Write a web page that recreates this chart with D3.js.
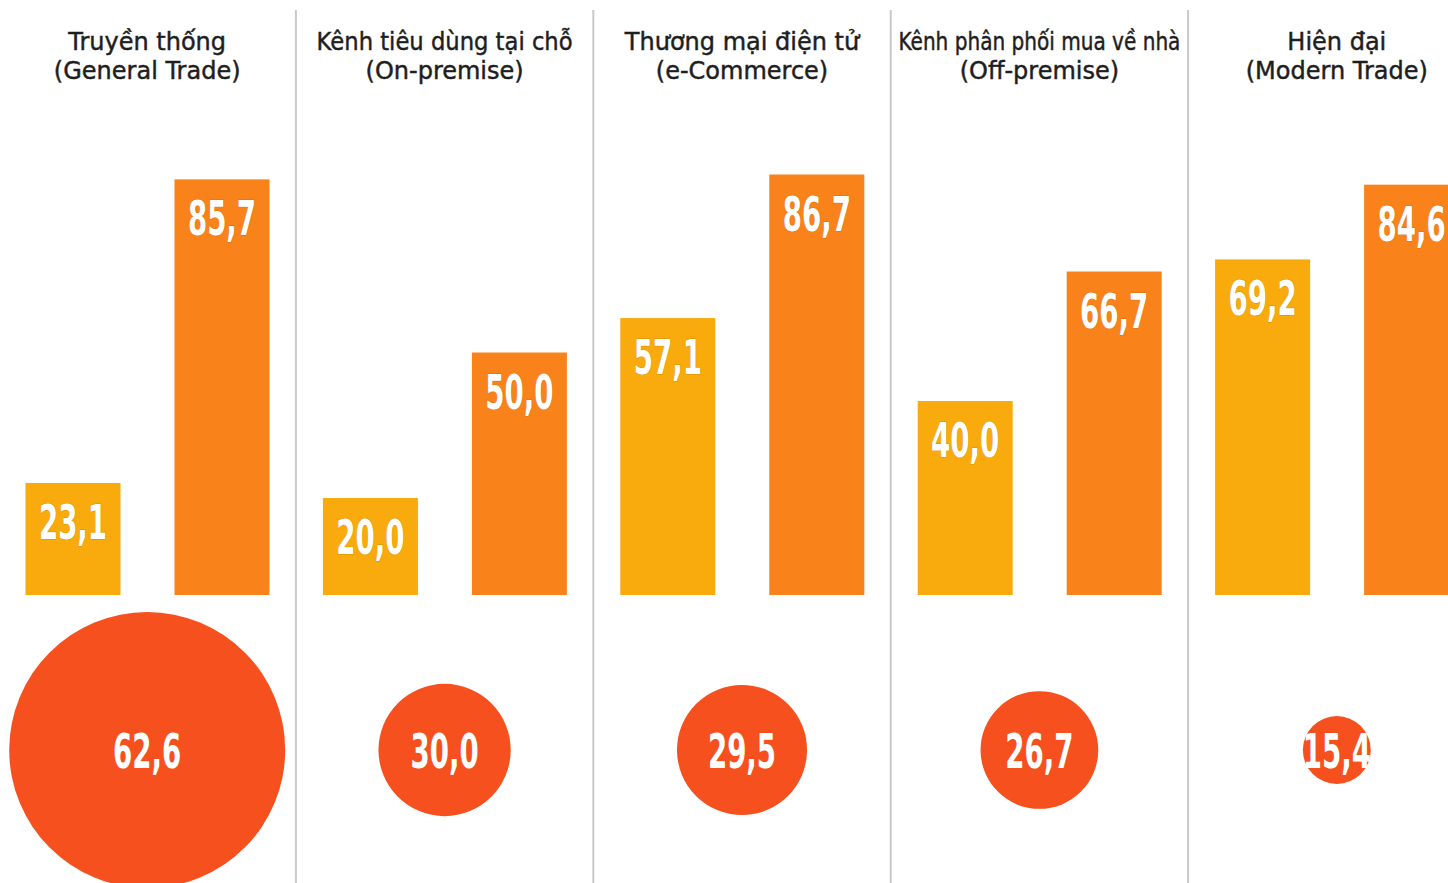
<!DOCTYPE html>
<html>
<head>
<meta charset="utf-8">
<script src="https://cdn.jsdelivr.net/npm/d3@7"></script>
<style>
  html, body { margin: 0; padding: 0; background: #fff; overflow: hidden; }
  svg { display: block; }
  .val { font-family: "DejaVu Sans Condensed", "Liberation Sans Narrow", sans-serif; font-weight: bold; fill: #fff; }
  .hdr { font-family: "DejaVu Sans", sans-serif; fill: #1e1e1e; stroke: #1e1e1e; stroke-width: 0.45; }
</style>
</head>
<body>
<svg id="chart" width="1448" height="883"></svg>
<script>
// ---- data ----
const categories = ["general", "onpremise", "ecommerce", "offpremise", "modern"];
const titleLine1 = ["Truyền thống", "Kênh tiêu dùng tại chỗ", "Thương mại điện tử", "Kênh phân phối mua về nhà", "Hiện đại"];
const titleLine2 = ["(General Trade)", "(On-premise)", "(e-Commerce)", "(Off-premise)", "(Modern Trade)"];
const seriesA = [23.1, 20.0, 57.1, 40.0, 69.2];   // yellow bars
const seriesB = [85.7, 50.0, 86.7, 66.7, 84.6];   // orange bars
const circleValues = [62.6, 30.0, 29.5, 26.7, 15.4];

const fmt = v => v.toFixed(1).replace(".", ",");

const svg = d3.select("#chart");
const W = 1448, H = 883;

const panelW = 297.4;
const x0 = d3.scaleBand().domain(categories).range([-1.5, -1.5 + panelW * categories.length]);
const x1 = d3.scaleBand().domain(["a", "b"]).range([27, 271]).paddingInner(0.3624).paddingOuter(0);
const y = d3.scaleLinear().domain([0, 100]).range([595, 595 - 485]);
const r = d3.scaleLinear().domain([0, 62.6]).range([0, 138]);
const circleY = 750;

const colA = "#F9AA0C", colB = "#F9821A", colC = "#F5501E";
const sx = 0.64;

// separators
svg.append("g").selectAll("line").data(categories.slice(1)).join("line")
  .attr("x1", d => x0(d)).attr("x2", d => x0(d))
  .attr("y1", 10).attr("y2", H)
  .attr("stroke", "#c9c9c9").attr("stroke-width", 2);

// headers
const hdr = svg.append("g");
categories.forEach((c, i) => {
  const cx = x0(c) + x0.bandwidth() / 2;
  const t1 = hdr.append("text").attr("class", "hdr").attr("x", cx).attr("y", 50)
    .attr("text-anchor", "middle").attr("font-size", 24).text(titleLine1[i]);
  if (i === 3) t1.attr("textLength", 282).attr("lengthAdjust", "spacingAndGlyphs");
  if (i === 1) t1.attr("textLength", 256).attr("lengthAdjust", "spacingAndGlyphs");
  hdr.append("text").attr("class", "hdr").attr("x", cx).attr("y", 79)
    .attr("text-anchor", "middle").attr("font-size", 24).text(titleLine2[i]);
});

// bars
const data = categories.map((c, i) => ({ c, vals: [{ k: "a", v: seriesA[i] }, { k: "b", v: seriesB[i] }] }));
const groups = svg.append("g").selectAll("g").data(data).join("g")
  .attr("transform", d => `translate(${x0(d.c)},0)`);

groups.selectAll("rect").data(d => d.vals).join("rect")
  .attr("x", d => x1(d.k)).attr("width", x1.bandwidth())
  .attr("y", d => y(d.v)).attr("height", d => y(0) - y(d.v))
  .attr("fill", d => d.k === "a" ? colA : colB);

groups.selectAll("text").data(d => d.vals).join("text")
  .attr("class", "val")
  .attr("transform", d => `translate(${x1(d.k) + x1.bandwidth() / 2},${y(d.v) + 56}) scale(${sx},1)`)
  .attr("text-anchor", "middle").attr("font-size", 48)
  .attr("stroke", "rgba(110,50,0,0.25)").attr("stroke-width", 1).attr("paint-order", "stroke")
  .text(d => fmt(d.v));

// circles
const cg = svg.append("g").selectAll("g").data(categories.map((c, i) => ({ c, v: circleValues[i] }))).join("g")
  .attr("transform", d => `translate(${x0(d.c) + x0.bandwidth() / 2},${circleY})`);
cg.append("circle").attr("r", d => r(d.v)).attr("fill", colC);
cg.append("text").attr("class", "val")
  .attr("transform", `translate(0,18) scale(${sx},1)`)
  .attr("text-anchor", "middle").attr("font-size", 48)
  .text(d => fmt(d.v));
</script>
</body>
</html>
